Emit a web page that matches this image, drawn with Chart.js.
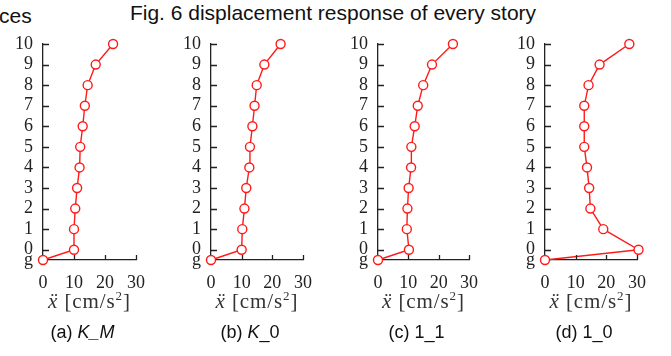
<!DOCTYPE html>
<html>
<head>
<meta charset="utf-8">
<script src="https://cdn.jsdelivr.net/npm/chart.js@4.4.1/dist/chart.umd.min.js"></script>
<style>
  body { margin: 0; width: 671px; height: 356px; overflow: hidden; background: #fff; position: relative; }
  .panel { position: absolute; top: 0; width: 170px; height: 300px; }
  .txt { position: absolute; white-space: nowrap; color: #111; }
  .sans { font-family: "Liberation Sans", Arial, sans-serif; }
  .xlab { font-family: "Liberation Serif", "Times New Roman", serif; font-size: 21px; letter-spacing: 0.9px; color: #333; transform: translateX(-50%); }
  .xlab sup { font-size: 13px; vertical-align: 8px; line-height: 0; }
  .cap { font-size: 18px; transform: translateX(-50%); }
</style>
</head>
<body>
<div class="txt sans" style="left:-1px; top:4px; font-size:21px;">ces</div>
<div class="txt sans" style="left:0; width:666px; top:1px; text-align:center; font-size:21px;">Fig. 6 displacement response of every story</div>

<div class="panel" id="p0" style="left:0px"><canvas id="c0" width="170" height="300"></canvas></div>
<div class="panel" id="p1" style="left:168px"><canvas id="c1" width="170" height="300"></canvas></div>
<div class="panel" id="p2" style="left:335px"><canvas id="c2" width="170" height="300"></canvas></div>
<div class="panel" id="p3" style="left:502px"><canvas id="c3" width="170" height="300"></canvas></div>

<script>
// story levels: g (ground), 0, 1 ... 10
const storyLabels = ['g', '0', '1', '2', '3', '4', '5', '6', '7', '8', '9', '10'];
const storyLevels = [-0.5, 0, 1, 2, 3, 4, 5, 6, 7, 8, 9, 10];
const xTicks = [0, 10, 20, 30];

// peak acceleration [cm/s^2] per story
const accKM = [0, 10.0, 10.0, 10.4, 11.0, 11.8, 12.0, 12.8, 13.5, 14.4, 17.0, 22.6];
const accK0 = [0, 10.0, 10.2, 10.9, 11.5, 12.5, 12.7, 13.5, 14.2, 14.9, 17.4, 22.7];
const acc11 = [0, 10.2, 9.5, 9.7, 10.1, 10.9, 11.0, 12.1, 13.1, 14.9, 17.8, 24.7];
const acc10 = [0, 30.5, 19.0, 14.8, 14.4, 13.7, 12.8, 12.8, 12.8, 14.2, 17.8, 27.5];

const captions = ['(a) <i>K_M</i>', '(b) <i>K</i>_0', '(c) 1_1', '(d) 1_0'];
const series = [accKM, accK0, acc11, acc10];

// layout per panel: panel left offset and plot width
const panelLeft = [0, 168, 335, 502];
const plotWidth = [93, 92, 91, 92];
const axisW = 43;

const axisColor = '#222';

// inward tick marks like the original figure
const innerTicks = {
  id: 'innerTicks',
  afterDraw(chart) {
    const ctx = chart.ctx;
    const xs = chart.scales.x, ys = chart.scales.y;
    const a = chart.chartArea;
    ctx.save();
    ctx.strokeStyle = axisColor;
    ctx.lineWidth = 1.3;
    ctx.beginPath();
    storyLevels.forEach(v => {
      if (v < 0) return;
      const y = Math.round(ys.getPixelForValue(v)) + 0.5;
      ctx.moveTo(a.left, y);
      ctx.lineTo(a.left + 6, y);
    });
    xTicks.forEach(v => {
      if (v === 0) return;
      const x = Math.round(xs.getPixelForValue(v)) + 0.5;
      ctx.moveTo(x, a.bottom);
      ctx.lineTo(x, a.bottom - 5);
    });
    ctx.stroke();
    ctx.restore();
  }
};

series.forEach((acc, i) => {
  const ctx = document.getElementById('c' + i).getContext('2d');
  new Chart(ctx, {
    type: 'scatter',
    data: {
      datasets: [{
        data: acc.map((v, k) => ({ x: v, y: storyLevels[k] })),
        showLine: true,
        borderColor: '#ff1a1a',
        borderWidth: 1.4,
        pointRadius: 4.5,
        pointBorderWidth: 1.4,
        pointBackgroundColor: '#fff',
        pointBorderColor: '#ff1a1a',
        clip: false
      }]
    },
    options: {
      responsive: false,
      animation: false,
      layout: { padding: { top: 44, right: 170 - axisW - plotWidth[i], left: 0, bottom: 0 } },
      plugins: { legend: { display: false }, tooltip: { enabled: false } },
      scales: {
        x: {
          type: 'linear', min: 0, max: 30,
          afterBuildTicks: s => { s.ticks = xTicks.map(v => ({ value: v })); },
          afterFit: s => { s.height = 40; },
          grid: { display: false, drawTicks: false },
          border: { display: true, color: axisColor, width: 1.3 },
          ticks: { padding: 12, color: '#222', font: { family: 'Liberation Serif', size: 18 }, maxRotation: 0 }
        },
        y: {
          type: 'linear', min: -0.5, max: 10,
          afterBuildTicks: s => { s.ticks = storyLevels.map(v => ({ value: v })); },
          afterFit: s => { s.width = axisW; },
          grid: { display: false, drawTicks: false },
          border: { display: true, color: axisColor, width: 1.3 },
          ticks: {
            autoSkip: false, padding: 10, color: '#222',
            font: { family: 'Liberation Serif', size: 18 },
            callback: (v) => storyLabels[storyLevels.indexOf(v)]
          }
        }
      }
    },
    plugins: [innerTicks]
  });

  const cx = panelLeft[i] + axisW + plotWidth[i] / 2;
  const xl = document.createElement('div');
  xl.className = 'txt xlab';
  xl.style.left = cx + 'px';
  xl.style.top = '289px';
  xl.innerHTML = '<i>ẍ</i>&nbsp;[cm/s<sup>2</sup>]';
  document.body.appendChild(xl);

  const cp = document.createElement('div');
  cp.className = 'txt sans cap';
  cp.style.left = (cx - 7) + 'px';
  cp.style.top = '322px';
  cp.innerHTML = captions[i];
  document.body.appendChild(cp);
});
</script>
</body>
</html>
